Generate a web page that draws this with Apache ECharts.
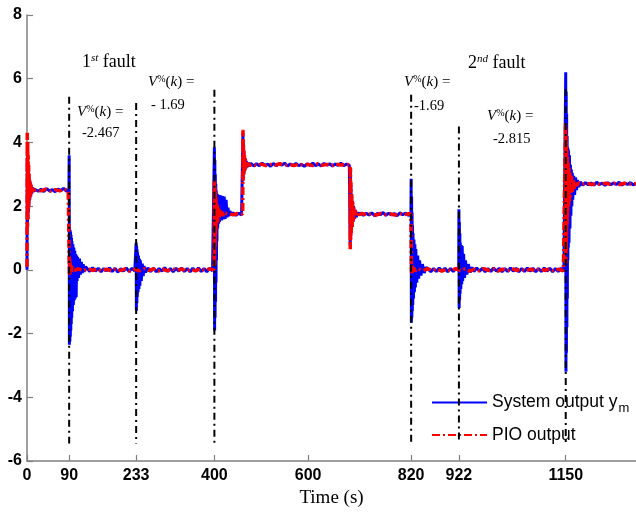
<!DOCTYPE html>
<html>
<head>
<meta charset="utf-8">
<script src="https://cdn.jsdelivr.net/npm/echarts@6/dist/echarts.min.js"></script>
<style>
  html, body { margin: 0; padding: 0; background: #fff; }
  #chart { width: 636px; height: 515px; }
</style>
</head>
<body>
<div id="chart"></div>
<script>
// Axis ticks
const xTicks = [0, 90, 233, 400, 600, 820, 922, 1150];
const xMax = 1300;
const yMin = -6, yMax = 8, yStep = 2;

// Fault instants (dash-dot markers) and how far up each marker reaches
const faultTimes = [90, 233, 400, 820, 922, 1150];
const faultTops = [5.43, 5.24, 5.65, 5.5, 4.5, 5.68];
const faultBottom = -5.45;

// Measured system output y_m  [time (s), value]
const systemOutput = [
  [0,0],[0.5,3.5],[1,1.4],[1.5,3.3],[2,1.6],[2.5,3.1],[3,1.8],[3.5,2.95],[4,2.0],[5,2.85],[6,2.2],[7,2.75],[8,2.3],[9,2.65],[10,2.4],[12,2.58],[14,2.45],[16,2.53],
  [18,2.56],[24,2.47],[30,2.53],[36,2.46],[42,2.55],[48,2.48],[54,2.52],[60,2.45],[66,2.54],[72,2.49],[78,2.56],[84,2.47],[89.5,2.52],
  [90,3.6],[90.5,-2.35],[91,1.3],[91.5,-2.25],[92,1.25],[92.5,-2.1],[93,1.2],[93.5,-1.9],[94,1.1],[94.5,-1.7],[95,1.0],[95.5,-1.5],[96,0.9],[97,-1.3],[98,0.8],[99,-1.1],[100,0.7],[101,-0.95],[102,0.6],[103,-0.9],[104,0.5],[105,-0.85],[106,0.45],[107,-0.35],[108,0.4],[110,-0.25],[112,0.35],[114,-0.15],[116,0.25],[118,-0.1],[120,0.18],[122,-0.06],[125,0.1],
  [128,0.06],[134,-0.05],[140,0.07],[146,-0.04],[152,0.05],[158,-0.06],[164,0.04],[170,-0.03],[176,0.06],[182,-0.05],[188,0.05],[194,-0.07],[200,0.04],[206,-0.04],[212,0.06],[218,-0.05],[224,0.05],[230,-0.03],[232.5,0.02],
  [233,0.85],[233.5,-1.28],[234,0.75],[234.5,-1.05],[235,0.65],[235.5,-0.85],[236,0.55],[237,-0.7],[238,0.45],[239,-0.6],[240,0.35],[241,-0.5],[242,0.3],[244,-0.35],[246,0.2],[248,-0.2],[250,0.12],[253,-0.08],
  [258,0.06],[264,-0.05],[270,0.05],[276,-0.06],[282,0.04],[288,-0.04],[294,0.07],[300,-0.05],[306,0.04],[312,-0.06],[318,0.05],[324,-0.04],[330,0.06],[336,-0.05],[342,0.04],[348,-0.06],[354,0.05],[360,-0.04],[366,0.06],[372,-0.05],[378,0.04],[384,-0.06],[390,0.05],[396,-0.03],[399.5,0.02],
  [400,3.85],[400.5,-1.9],[401,3.45],[401.5,-1.5],[402,3.0],[402.5,-1.0],[403,2.7],[403.5,-0.4],[404,2.5],[404.5,0.3],[405,2.4],[405.5,0.9],[406,2.38],[407,1.3],[408,2.36],[409,1.45],[410,2.35],[411,1.5],[412,2.34],[413,1.55],[414,2.33],[415,1.55],[417,2.32],[419,1.58],[421,2.3],[423,1.6],[425,2.2],[427,1.65],[429,1.95],[431,1.68],[433,1.85],[436,1.72],
  [440,1.79],[446,1.71],[452,1.78],[458,1.72],[460.5,1.76],
  [461,4.3],[461.5,2.9],[462,4.0],[462.5,3.0],[463,3.75],[463.5,3.05],[464,3.6],[465,3.12],[466,3.5],[467,3.18],[468,3.42],[470,3.22],[472,3.37],[474,3.26],
  [478,3.34],[484,3.26],[490,3.33],[496,3.27],[502,3.35],[508,3.28],[514,3.32],[520,3.25],[526,3.34],[532,3.27],[538,3.33],[544,3.29],[550,3.35],[556,3.26],[562,3.32],[568,3.28],[574,3.34],[580,3.27],[586,3.31],[592,3.25],[598,3.33],[604,3.28],[610,3.35],[616,3.27],[622,3.32],[628,3.26],[634,3.34],[640,3.29],[646,3.33],[652,3.26],[658,3.32],[664,3.28],[670,3.35],[676,3.27],[682,3.32],[688,3.29],[689.5,3.3],
  [690,0.75],[690.5,3.1],[691,1.0],[691.5,2.65],[692,1.2],[693,2.35],[694,1.35],[695,2.15],[696,1.5],[697,2.0],[699,1.6],[701,1.88],[703,1.66],[706,1.8],[709,1.72],
  [712,1.79],[718,1.71],[724,1.78],[730,1.72],[736,1.79],[742,1.7],[748,1.77],[754,1.73],[760,1.8],[766,1.71],[772,1.78],[778,1.72],[784,1.77],[790,1.7],[796,1.79],[802,1.73],[808,1.78],[814,1.71],[819.5,1.76],
  [820,2.86],[820.5,-1.66],[821,2.3],[821.5,-1.5],[822,1.8],[822.5,-1.3],[823,1.4],[823.5,-1.1],[824,1.15],[825,-0.9],[826,0.95],[827,-0.7],[828,0.8],[829,-0.55],[830,0.65],[832,-0.4],[834,0.45],[836,-0.28],[838,0.3],[841,-0.18],[844,0.18],[848,-0.1],[852,0.08],
  [856,0.05],[862,-0.06],[868,0.04],[874,-0.05],[880,0.06],[886,-0.04],[892,0.05],[898,-0.06],[904,0.04],[910,-0.05],[916,0.05],[921.5,-0.02],
  [922,1.9],[922.5,-1.2],[923,1.5],[923.5,-0.95],[924,1.15],[924.5,-0.75],[925,0.85],[926,-0.6],[927,0.78],[928,-0.45],[929,0.75],[930,-0.35],[932,0.5],[934,-0.25],[936,0.3],[939,-0.15],[942,0.18],[946,-0.08],[950,0.08],
  [954,-0.05],[960,0.06],[966,-0.04],[972,0.05],[978,-0.06],[984,0.04],[990,-0.05],[996,0.06],[1002,-0.04],[1008,0.05],[1014,-0.06],[1020,0.04],[1026,-0.05],[1032,0.06],[1038,-0.04],[1044,0.05],[1050,-0.06],[1056,0.04],[1062,-0.05],[1068,0.06],[1074,-0.04],[1080,0.05],[1086,-0.06],[1092,0.04],[1098,-0.05],[1104,0.06],[1110,-0.04],[1116,0.05],[1122,-0.06],[1128,0.04],[1134,-0.05],[1140,0.05],[1146,-0.04],[1149.5,0.02],
  [1150,6.2],[1150.5,-3.2],[1151,5.6],[1151.5,-2.6],[1152,4.9],[1152.5,-1.8],[1153,4.2],[1153.5,-0.9],[1154,3.85],[1154.5,0.3],[1155,3.8],[1155.5,0.7],[1156,3.75],[1157,0.85],[1158,3.6],[1159,1.3],[1160,3.3],[1161,1.7],[1162,3.15],[1163,2.0],[1164,3.05],[1165,2.2],[1167,2.95],[1169,2.35],[1171,2.9],[1173,2.5],[1175,2.82],[1178,2.6],[1181,2.76],
  [1186,2.66],[1192,2.74],[1198,2.67],[1204,2.73],[1210,2.66],[1216,2.75],[1222,2.68],[1228,2.72],[1234,2.65],[1240,2.74],[1246,2.67],[1252,2.73],[1258,2.68],[1264,2.75],[1270,2.66],[1276,2.72],[1282,2.68],[1288,2.74],[1294,2.67],[1300,2.71]
];

// Proportional-integral observer estimate  [time (s), value]
const pioOutput = [
  [0,0.1],[0.5,4.3],[1,1.35],[1.5,4.0],[2,1.6],[2.5,3.6],[3,1.9],[3.5,3.3],[4,2.05],[4.5,3.05],[5,2.2],[6,2.85],[7,2.3],[8,2.72],[9,2.4],[10,2.62],[11,2.45],[13,2.56],[15,2.48],
  [20,2.52],[30,2.48],[40,2.53],[50,2.47],[60,2.52],[70,2.48],[80,2.53],[88,2.49],[89.5,2.5],
  [90,2.55],[90.5,-0.12],[91,0.35],[91.5,-0.15],[92,0.25],[93,-0.1],[94,0.15],[95,-0.06],[97,0.08],[100,-0.03],
  [110,0.03],[120,-0.03],[130,0.04],[140,-0.02],[150,0.03],[160,-0.04],[170,0.02],[180,-0.03],[190,0.04],[200,-0.02],[210,0.03],[220,-0.04],[230,0.02],[240,-0.03],[250,0.04],[260,-0.02],[270,0.03],[280,-0.04],[290,0.02],[300,-0.03],[310,0.04],[320,-0.02],[330,0.03],[340,-0.04],[350,0.02],[360,-0.03],[370,0.04],[380,-0.02],[390,0.03],[399.5,0.0],
  [400,2.8],[400.5,0.15],[401,2.6],[401.5,0.7],[402,2.45],[402.5,1.1],[403,2.3],[403.5,1.25],[404,2.15],[405,1.4],[406,2.05],[407,1.5],[408,1.95],[410,1.6],[412,1.88],[414,1.66],[416,1.82],[419,1.7],[422,1.78],[426,1.73],
  [430,1.76],[440,1.73],[450,1.77],[460.5,1.75],
  [461,4.4],[461.5,2.8],[462,4.05],[462.5,2.95],[463,3.75],[463.5,3.05],[464,3.6],[465,3.12],[466,3.48],[467,3.2],[468,3.4],[470,3.24],[472,3.35],[475,3.28],
  [480,3.31],[490,3.28],[500,3.32],[510,3.27],[520,3.31],[530,3.29],[540,3.33],[550,3.28],[560,3.31],[570,3.27],[580,3.32],[590,3.29],[600,3.31],[610,3.27],[620,3.33],[630,3.28],[640,3.31],[650,3.27],[660,3.32],[670,3.29],[680,3.31],[689.5,3.3],
  [690,0.65],[690.5,3.2],[691,0.95],[691.5,2.75],[692,1.15],[693,2.4],[694,1.35],[695,2.15],[696,1.5],[697,2.0],[699,1.6],[701,1.86],[703,1.68],[706,1.8],[709,1.73],
  [715,1.77],[725,1.73],[735,1.76],[745,1.72],[755,1.77],[765,1.74],[775,1.76],[785,1.72],[795,1.77],[805,1.73],[815,1.76],[819.5,1.75],
  [820,1.78],[820.5,-0.08],[821,0.2],[822,-0.1],[823,0.12],[824,-0.06],[826,0.06],[829,-0.03],
  [835,0.03],[845,-0.03],[855,0.04],[865,-0.02],[875,0.03],[885,-0.04],[895,0.02],[905,-0.03],[915,0.04],[925,-0.02],[935,0.03],[945,-0.04],[955,0.02],[965,-0.03],[975,0.04],[985,-0.02],[995,0.03],[1005,-0.04],[1015,0.02],[1025,-0.03],[1035,0.04],[1045,-0.02],[1055,0.03],[1065,-0.04],[1075,0.02],[1085,-0.03],[1095,0.04],[1105,-0.02],[1115,0.03],[1125,-0.04],[1135,0.02],[1145,-0.03],[1149,0.0],
  [1149.5,4.6],[1150,0.2],[1150.5,4.3],[1151,0.6],[1151.5,4.0],[1152,1.0],[1152.5,3.75],[1153,1.4],[1153.5,3.55],[1154,1.7],[1155,3.35],[1156,1.95],[1157,3.2],[1158,2.15],[1159,3.05],[1160,2.3],[1162,2.95],[1164,2.45],[1166,2.85],[1168,2.55],[1171,2.78],[1174,2.64],[1177,2.73],
  [1185,2.69],[1195,2.72],[1205,2.68],[1215,2.71],[1225,2.67],[1235,2.72],[1245,2.69],[1255,2.71],[1265,2.68],[1275,2.72],[1285,2.69],[1300,2.71]
];

const SANS = 'Liberation Sans, Arial, sans-serif';
const SERIF = 'Liberation Serif, Times New Roman, serif';

const chart = echarts.init(document.getElementById('chart'), null, { renderer: 'canvas' });

const faultSeries = faultTimes.map((t, i) => ({
  type: 'line',
  name: 'fault' + i,
  data: [[t, faultTops[i]], [t, faultBottom]],
  symbol: 'none',
  silent: true,
  z: 5,
  lineStyle: { color: '#000', width: 2, type: [7, 4, 2, 4] }
}));

// Rich-text styles for the annotation labels
const annRich = {
  v: { fontFamily: SERIF, fontStyle: 'italic', fontSize: 15, color: '#000' },
  p: { fontFamily: SERIF, fontSize: 10, color: '#000', verticalAlign: 'top', lineHeight: 10 },
  n: { fontFamily: SERIF, fontSize: 15, color: '#000' },
  k: { fontFamily: SERIF, fontStyle: 'italic', fontSize: 15, color: '#000' },
  num: { fontFamily: SERIF, fontSize: 14.5, color: '#000' },
  f: { fontFamily: SERIF, fontSize: 18, color: '#000' },
  sup: { fontFamily: SERIF, fontStyle: 'italic', fontSize: 11, color: '#000', verticalAlign: 'top', lineHeight: 11 }
};
const vLabel = '{v|V}{p|%}{n|(}{k|k}{n|) =}';

function textEl(x, y, text) {
  return { type: 'text', x: x, y: y, z: 20, silent: true,
    style: { text: text, rich: annRich, verticalAlign: 'middle', align: 'left', fill: '#000' } };
}

const option = {
  animation: false,
  backgroundColor: '#fff',
  grid: { left: 27, right: 0, top: 15, bottom: 54, containLabel: false },
  xAxis: {
    type: 'value', min: 0, max: xMax,
    name: 'Time (s)', nameLocation: 'middle', nameGap: 27,
    nameTextStyle: { fontFamily: SERIF, fontSize: 19, color: '#000' },
    axisLine: { show: true, onZero: false, lineStyle: { color: '#808080', width: 1.5 } },
    axisTick: { show: true, inside: true, length: 6, customValues: xTicks, lineStyle: { color: '#808080', width: 1.2 } },
    axisLabel: { customValues: xTicks, formatter: v => String(v), fontFamily: SANS, fontWeight: 'bold', fontSize: 16, color: '#000', margin: 7 },
    splitLine: { show: false }
  },
  yAxis: {
    type: 'value', min: yMin, max: yMax, interval: yStep,
    axisLine: { show: true, onZero: false, lineStyle: { color: '#808080', width: 1.5 } },
    axisTick: { show: true, inside: true, length: 6, lineStyle: { color: '#808080', width: 1.2 } },
    axisLabel: { fontFamily: SANS, fontWeight: 'bold', fontSize: 16, color: '#000', margin: 5 },
    splitLine: { show: false }
  },
  legend: {
    data: ['System output', 'PIO output'],
    orient: 'vertical', left: 431, top: 390, padding: 0,
    itemWidth: 55, itemHeight: 14, itemGap: 11,
    itemStyle: { opacity: 0 },
    formatter: n => n === 'System output' ? '{a|System output y}{s|m}' : '{a|PIO output}',
    textStyle: {
      rich: {
        a: { fontFamily: SANS, fontSize: 17.5, color: '#000', lineHeight: 22 },
        s: { fontFamily: SANS, fontSize: 13, color: '#000', lineHeight: 22, padding: [12, 0, 0, 1] }
      }
    }
  },
  series: [
    {
      type: 'line', name: 'System output', data: systemOutput,
      symbol: 'none', z: 3,
      lineStyle: { color: '#0000ff', width: 3 },
      itemStyle: { color: '#0000ff' }
    },
    {
      type: 'line', name: 'PIO output', data: pioOutput,
      symbol: 'none', z: 4,
      lineStyle: { color: '#ff0000', width: 3.5, type: [8, 3, 2, 3] },
      itemStyle: { color: '#ff0000' }
    }
  ].concat(faultSeries),
  graphic: [
    textEl(82, 62, '{f|1}{sup|st}{f| fault}'),
    textEl(77, 112, vLabel),
    textEl(82, 133, '{num|-2.467}'),
    textEl(148, 82, vLabel),
    textEl(151, 105, '{num|- 1.69}'),
    textEl(468, 63, '{f|2}{sup|nd}{f| fault}'),
    textEl(404, 82, vLabel),
    textEl(414, 106, '{num|-1.69}'),
    textEl(487, 116, vLabel),
    textEl(493, 139, '{num|-2.815}')
  ]
};

chart.setOption(option);
</script>
</body>
</html>
